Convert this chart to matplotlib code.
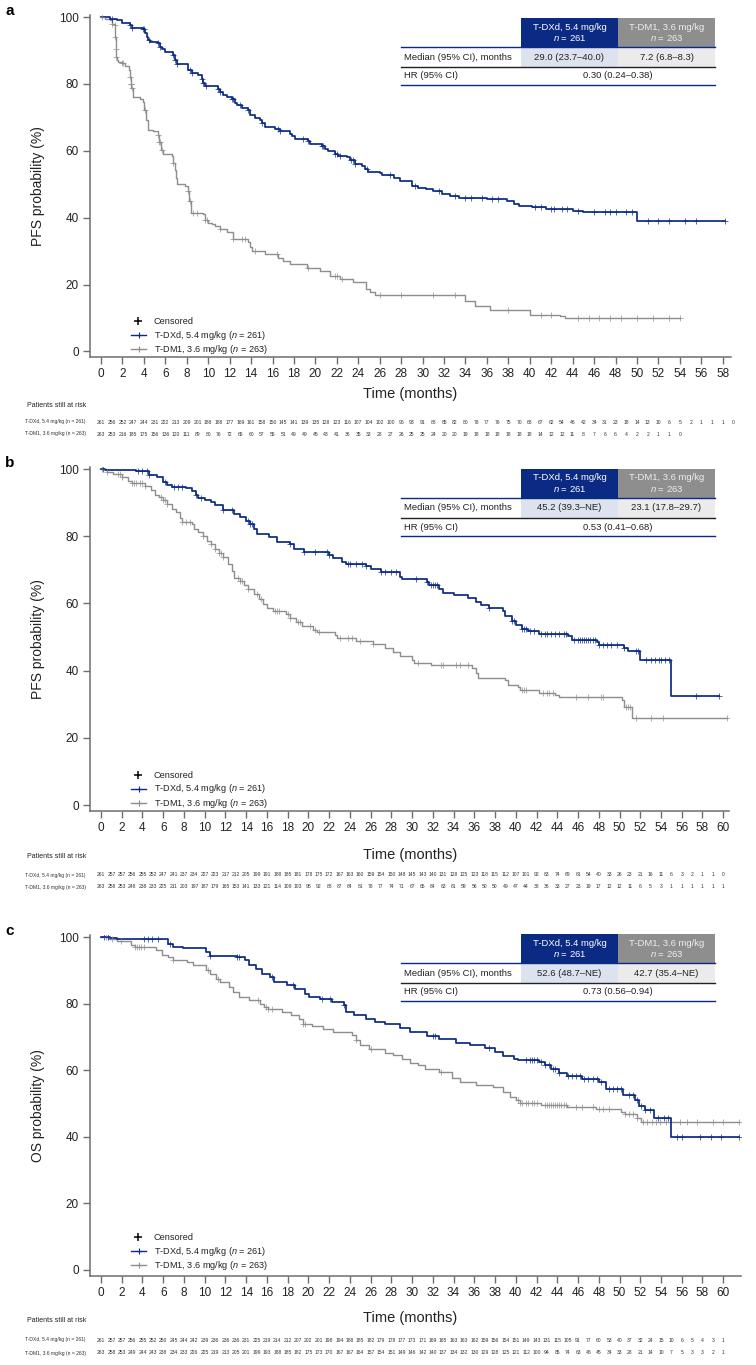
import numpy as np
import matplotlib
matplotlib.use('Agg')
import matplotlib.pyplot as plt
from matplotlib.lines import Line2D
from matplotlib.patches import Rectangle
from matplotlib import transforms

plt.rcParams['font.family'] = ['Liberation Sans', 'DejaVu Sans']
plt.rcParams['mathtext.fontset'] = 'custom'
plt.rcParams['mathtext.it'] = 'Liberation Sans:italic'
plt.rcParams['mathtext.rm'] = 'Liberation Sans'

# ---------------- data: panel a (PFS, BICR) ----------------
a_dxd_t = [0, 0.84, 1.46, 1.99, 2.71, 2.86, 3.89, 4.10, 4.26, 4.42, 4.57, 5.35, 5.50, 5.66, 5.97,
           6.75, 6.90, 7.06, 8.15, 8.46, 9.08, 9.39, 9.55, 9.70, 10.95, 11.10, 11.41, 11.79, 12.19,
           12.50, 12.66, 13.12, 13.74, 13.90, 14.37, 14.83, 14.99, 15.30, 16.23, 16.70, 17.63, 17.79,
           18.10, 19.34, 19.50, 20.59, 20.90, 21.21, 21.83, 22.14, 22.92, 23.23, 23.69, 24.32, 24.63,
           24.94, 26.03, 26.18, 27.3, 27.9, 29.0, 29.6, 30.3, 31.0, 31.8, 32.6, 33.4, 36.0, 37.9,
           38.5, 39.0, 40.2, 41.5, 44.0, 45.0, 50.0]
a_dxd_s = [100, 99.5, 99.0, 98.3, 97.6, 96.8, 96.3, 95.1, 94.1, 93.1, 92.4, 92.1, 91.1, 90.4, 89.4,
           88.6, 87.1, 85.9, 84.1, 83.4, 82.6, 81.6, 80.4, 79.5, 78.5, 77.7, 76.7, 76.0, 75.4,
           74.2, 73.7, 72.9, 72.2, 70.7, 69.7, 69.1, 68.3, 67.1, 66.5, 65.8, 65.1, 64.3,
           63.6, 62.8, 62.0, 61.5, 60.5, 59.8, 59.0, 58.3, 58.1, 57.3, 56.0, 55.3, 54.5,
           53.6, 53.3, 52.8, 52.0, 51.0, 49.6, 49.0, 48.5, 47.9, 47.2, 46.6, 46.0, 45.6, 45.0,
           44.2, 43.6, 43.1, 42.6, 42.1, 41.6, 39.0]
a_dxd_end = 58.2
a_dxd_cens = [1.0, 2.71, 2.86, 3.89, 4.04, 4.51, 5.35, 5.5, 6.75, 6.9, 7.12, 8.3, 8.46, 9.39, 9.55,
              9.76, 10.95, 11.1, 12.19, 12.35, 12.97, 13.74, 14.99, 16.54, 16.7, 18.87, 19.34, 20.59,
              20.74, 21.83, 21.98, 22.29, 23.29, 23.54, 23.69, 24.84, 27.0, 29.3, 31.5, 33.0, 34.0,
              34.5, 35.5, 36.5, 37.0, 40.5, 41.0, 42.0, 42.3, 43.0, 43.5, 44.5, 46.0, 47.0, 47.5,
              48.0, 49.0, 49.5, 51.0, 52.0, 53.0, 54.5, 55.5, 58.2]

a_dm1_t = [0, 0.37, 0.84, 1.0, 1.31, 1.34, 1.37, 1.40, 1.46, 1.62, 1.93, 2.24, 2.64, 2.71, 2.76,
           2.82, 2.95, 3.64, 3.95, 4.04, 4.20, 4.42, 4.88, 5.35, 5.45, 5.57, 5.75, 6.59, 6.75,
           6.90, 7.00, 7.12, 7.84, 8.09, 8.24, 8.40, 9.55, 9.70, 10.02, 10.32, 10.63, 11.10, 11.72,
           12.35, 13.74, 13.90, 14.05, 15.30, 16.54, 17.01, 17.63, 19.19, 20.43, 21.36, 22.29,
           23.54, 24.72, 25.10, 25.56, 34.0, 34.9, 36.3, 40.0, 42.8, 43.3]
a_dm1_s = [100, 99.5, 99.0, 98.0, 97.6, 94.0, 90.5, 88.0, 87.1, 86.6, 86.1, 85.3, 84.3, 82.0, 80.0,
           78.7, 76.0, 75.4, 74.5, 72.2, 69.2, 66.2, 65.8, 64.8, 62.5, 60.3, 59.0, 58.3, 56.3,
           54.3, 52.0, 50.2, 49.6, 47.9, 44.9, 41.5, 41.0, 39.3, 38.5, 38.0, 37.5, 36.7, 35.7,
           33.5, 32.8, 31.3, 30.1, 29.0, 27.8, 27.1, 26.1, 24.8, 24.1, 22.6, 21.8,
           20.8, 18.6, 17.8, 16.8, 15.0, 13.5, 12.5, 11.0, 10.5, 10.0]
a_dm1_end = 54.0
a_dm1_cens = [0.1, 1.0, 1.31, 1.34, 1.38, 1.42, 1.93, 2.08, 2.72, 2.76, 2.79, 2.86, 4.1, 5.35, 5.45,
              5.55, 5.66, 6.75, 8.15, 8.3, 8.62, 8.93, 9.7, 9.86, 11.1, 12.35, 13.12, 13.43, 14.37,
              16.39, 19.34, 21.83, 21.98, 22.45, 26.03, 28.0, 31.0, 33.0, 38.0, 41.0, 42.0, 44.5,
              45.5, 46.5, 47.5, 48.5, 50.0, 51.5, 53.0, 54.0]

a_risk_dxd = [261, 256, 252, 247, 244, 231, 222, 213, 209, 201, 188, 188, 177, 169, 161, 158, 150,
              145, 141, 139, 135, 128, 123, 116, 107, 104, 102, 100, 96, 93, 91, 88, 85, 82, 80, 78,
              77, 76, 75, 70, 68, 67, 62, 54, 46, 42, 34, 31, 23, 18, 14, 13, 10, 6, 5, 2, 1, 1, 1, 0]
a_risk_dm1 = [263, 253, 216, 185, 175, 156, 136, 120, 111, 89, 80, 76, 72, 65, 60, 57, 55, 51, 49,
              49, 45, 43, 41, 36, 35, 33, 28, 27, 26, 25, 25, 24, 20, 20, 19, 18, 18, 18, 18, 18,
              18, 14, 12, 12, 11, 8, 7, 6, 6, 4, 2, 2, 1, 1, 0]
a_table = ['29.0 (23.7\u201340.0)', '7.2 (6.8\u20138.3)', '0.30 (0.24\u20130.38)']

# ---------------- data: panel b (PFS, investigator) ----------------
b_dxd_t = [0, 0.4, 3.4, 4.6, 5.4, 6.0, 6.4, 6.8, 8.2, 8.8, 9.2, 9.4, 10.0, 10.6, 11.0, 11.8, 12.8,
           13.4, 14.0, 14.4, 14.8, 15.0, 16.2, 17.0, 18.2, 18.6, 19.6, 22.0, 22.4, 23.2, 23.6, 25.6,
           26.0, 27.0, 28.8, 29.0, 31.4, 31.6, 32.6, 33.0, 34.0, 35.4, 36.2, 36.6, 37.4, 38.8, 39.0,
           39.6, 40.0, 40.6, 41.2, 42.2, 45.0, 45.4, 47.8, 48.0, 50.4, 50.8, 52.0, 55.0]
b_dxd_s = [100, 99.7, 99.4, 98.2, 97.7, 96.2, 95.2, 94.7, 94.2, 93.4, 92.2, 91.4, 90.7, 90.2, 89.2,
           87.7, 86.7, 85.7, 84.4, 83.7, 82.2, 80.7, 79.7, 78.4, 77.7, 76.2, 75.4, 74.4, 73.4, 72.4,
           71.7, 71.2, 70.2, 69.2, 68.0, 67.2, 66.4, 65.4, 64.2, 63.2, 62.4, 61.7, 60.4, 59.4, 58.7,
           57.7, 56.2, 54.7, 53.7, 52.4, 51.7, 51.0, 50.2, 49.0, 48.4, 47.7, 46.7, 45.7, 43.2, 32.5]
b_dxd_end = 59.6
b_dxd_cens = [0.2, 3.6, 4.0, 4.4, 4.6, 6.2, 7.0, 7.4, 7.8, 9.2, 9.6, 11.8, 12.6, 14.2, 14.4, 14.6,
              18.2, 19.6, 20.6, 21.8, 22.0, 23.8, 24.0, 24.6, 25.2, 25.6, 27.0, 27.4, 28.0, 28.4,
              30.4, 31.4, 31.8, 32.0, 32.2, 32.4, 37.4, 39.6, 39.8, 40.6, 40.8, 41.0, 41.4, 41.8,
              42.4, 42.8, 43.0, 43.4, 43.8, 44.2, 44.6, 44.8, 45.6, 46.0, 46.2, 46.4, 46.6, 46.8,
              47.0, 47.2, 47.4, 47.6, 48.0, 48.4, 48.8, 49.2, 49.8, 50.4, 51.6, 51.8, 52.6, 53.0,
              53.4, 53.8, 54.0, 54.4, 54.8, 57.4, 59.6]

b_dm1_t = [0, 0.6, 1.2, 2.0, 2.6, 3.0, 4.2, 4.8, 5.2, 5.6, 6.0, 6.4, 6.8, 7.2, 7.6, 7.8, 8.8, 9.0,
           9.4, 9.8, 10.2, 10.6, 11.0, 11.4, 11.8, 12.2, 12.6, 12.8, 13.4, 13.8, 14.2, 14.8, 15.2,
           15.6, 16.0, 16.6, 17.8, 18.2, 18.8, 19.4, 20.4, 20.8, 22.6, 22.8, 24.6, 26.2, 27.4, 28.2,
           28.8, 30.0, 30.2, 31.8, 35.8, 36.2, 36.4, 39.0, 39.2, 40.2, 40.4, 42.2, 43.8, 44.2, 50.2,
           50.4, 51.2]
b_dm1_s = [100, 99.2, 98.4, 97.7, 96.4, 95.7, 95.0, 93.7, 92.2, 91.7, 90.7, 89.7, 88.2, 87.2, 85.4,
           84.2, 83.7, 82.2, 81.2, 80.2, 78.7, 77.7, 76.2, 75.0, 73.7, 71.7, 69.7, 67.7, 66.7, 65.4,
           64.2, 62.7, 61.2, 59.7, 58.7, 57.7, 56.7, 55.7, 54.4, 53.2, 52.2, 51.4, 50.7, 49.7, 48.7,
           48.0, 46.7, 45.4, 44.4, 43.2, 42.2, 41.7, 40.7, 39.2, 37.7, 37.2, 35.7, 35.2, 34.2, 33.4,
           32.7, 32.2, 31.2, 29.2, 26.0]
b_dm1_end = 60.4
b_dm1_cens = [0.1, 0.6, 1.6, 1.8, 2.0, 3.0, 3.2, 3.4, 3.8, 4.0, 4.2, 5.8, 6.0, 6.2, 6.4, 7.8, 8.2,
              8.6, 9.8, 10.6, 11.0, 11.4, 11.6, 11.8, 13.2, 13.4, 13.6, 14.2, 15.0, 15.4, 16.8, 17.0,
              17.2, 18.0, 18.2, 19.0, 19.2, 20.2, 20.6, 21.0, 23.0, 23.8, 24.2, 25.0, 26.2, 30.6,
              32.8, 33.0, 34.2, 34.6, 35.4, 40.6, 40.8, 41.0, 42.6, 43.0, 43.2, 43.6, 45.8, 47.0,
              48.2, 48.4, 50.6, 50.8, 51.0, 51.6, 53.0, 54.2, 60.4]

b_risk_dxd = [261, 257, 257, 256, 255, 252, 247, 241, 237, 234, 227, 223, 217, 212, 205, 199, 191,
              188, 185, 181, 178, 175, 172, 167, 163, 160, 159, 154, 150, 148, 145, 143, 140, 131,
              128, 125, 123, 118, 115, 112, 107, 101, 92, 83, 74, 69, 61, 54, 40, 33, 26, 23, 21,
              16, 11, 6, 3, 2, 1, 1, 0]
b_risk_dm1 = [263, 258, 253, 248, 238, 233, 225, 211, 203, 197, 187, 179, 165, 153, 141, 133, 121,
              114, 109, 103, 98, 92, 88, 87, 84, 81, 78, 77, 74, 71, 67, 65, 64, 63, 61, 59, 56, 50,
              50, 49, 47, 44, 38, 36, 33, 27, 23, 19, 17, 12, 12, 11, 6, 5, 3, 1, 1, 1, 1, 1, 1]
b_table = ['45.2 (39.3\u2013NE)', '23.1 (17.8\u201329.7)', '0.53 (0.41\u20130.68)']

# ---------------- data: panel c (OS) ----------------
c_dxd_t = [0, 0.9, 1.5, 6.5, 6.9, 7.9, 10.1, 10.5, 13.1, 13.9, 14.3, 14.9, 15.5, 16.3, 16.7, 17.9,
           18.7, 19.7, 20.1, 21.1, 22.3, 23.4, 23.6, 24.4, 25.6, 26.4, 27.4, 28.8, 29.8, 31.4, 32.6,
           34.2, 35.6, 37.0, 38.0, 38.8, 39.8, 40.2, 42.2, 42.8, 43.4, 44.2, 44.9, 46.4, 48.0, 48.7,
           50.3, 51.5, 51.9, 52.5, 53.3, 55.0]
c_dxd_s = [100, 99.7, 99.3, 98.0, 97.0, 96.7, 95.5, 94.3, 94.0, 93.0, 91.5, 90.5, 89.0, 88.0, 86.5,
           85.5, 84.5, 83.0, 82.0, 81.5, 80.5, 79.7, 77.5, 76.7, 75.5, 74.5, 74.0, 72.7, 71.5, 70.3,
           69.5, 68.3, 67.7, 66.7, 65.5, 64.3, 63.5, 63.0, 62.5, 61.7, 60.5, 59.3, 58.3, 57.5, 56.5,
           54.5, 52.7, 51.0, 49.3, 48.0, 45.7, 40.0]
c_dxd_end = 61.5
c_dxd_cens = [0.3, 0.7, 4.1, 4.5, 4.9, 5.5, 6.7, 10.5, 13.1, 13.3, 16.5, 18.5, 21.3, 22.1, 23.4,
              32.0, 32.2, 37.4, 41.0, 41.4, 41.6, 41.8, 42.0, 42.4, 42.8, 43.2, 43.6, 43.8, 44.2,
              45.0, 45.4, 45.8, 46.2, 46.6, 47.0, 47.4, 47.8, 48.2, 49.0, 49.4, 49.8, 50.1, 50.9,
              51.3, 51.7, 52.1, 52.5, 52.9, 53.7, 54.3, 54.7, 55.5, 56.0, 57.8, 58.8, 59.8, 61.5]

c_dm1_t = [0, 0.7, 1.5, 2.9, 3.3, 5.3, 5.9, 6.5, 6.9, 8.3, 8.9, 10.1, 10.5, 11.1, 11.5, 12.3, 12.7,
           13.3, 14.3, 15.3, 15.7, 16.1, 17.5, 18.3, 19.1, 19.5, 20.3, 21.4, 22.4, 24.2, 24.6, 25.0,
           25.8, 27.4, 28.2, 29.0, 29.8, 30.6, 31.2, 32.6, 33.8, 34.6, 36.2, 37.8, 38.8, 39.4, 40.0,
           40.4, 42.4, 44.9, 47.7, 50.1, 50.5, 51.7, 52.1]
c_dm1_s = [100, 99.3, 98.7, 97.5, 97.0, 96.0, 94.7, 94.0, 93.0, 92.5, 91.5, 90.0, 89.0, 87.5, 86.5,
           85.0, 83.5, 82.0, 81.0, 80.0, 79.0, 78.3, 77.5, 76.5, 75.3, 74.0, 73.3, 72.5, 71.5, 70.7,
           69.0, 67.5, 66.3, 65.3, 64.5, 63.5, 62.3, 61.5, 60.5, 59.5, 57.7, 56.5, 55.7, 55.0, 53.5,
           52.0, 51.0, 50.3, 49.5, 49.0, 48.3, 47.5, 46.7, 45.5, 44.3]
c_dm1_end = 61.5
c_dm1_cens = [0.5, 1.1, 1.9, 3.3, 3.5, 3.7, 3.9, 4.1, 6.9, 10.3, 11.3, 15.1, 15.9, 16.1, 16.5,
              19.5, 19.7, 24.6, 26.0, 32.8, 40.2, 40.4, 40.6, 41.0, 41.2, 41.6, 41.8, 42.0, 42.8,
              43.0, 43.2, 43.4, 43.6, 43.8, 44.0, 44.2, 44.4, 44.6, 44.8, 45.8, 46.4, 47.4, 48.0,
              48.4, 49.0, 50.5, 50.9, 51.3, 51.7, 52.3, 52.7, 53.1, 53.5, 53.9, 54.5, 55.8, 56.5,
              57.5, 59.0, 60.0, 61.5]

c_risk_dxd = [261, 257, 257, 256, 255, 252, 250, 245, 244, 242, 239, 236, 236, 236, 231, 225, 219,
              214, 212, 207, 202, 201, 198, 194, 188, 185, 182, 179, 178, 177, 173, 171, 169, 165,
              163, 163, 162, 159, 156, 154, 151, 149, 143, 131, 115, 105, 91, 77, 60, 53, 40, 37,
              32, 24, 15, 10, 6, 5, 4, 3, 1]
c_risk_dm1 = [263, 258, 253, 249, 244, 243, 238, 234, 233, 226, 225, 219, 213, 205, 201, 199, 193,
              188, 185, 182, 175, 173, 170, 167, 167, 164, 157, 154, 151, 149, 146, 142, 140, 137,
              134, 132, 130, 129, 128, 125, 121, 112, 100, 94, 85, 74, 63, 48, 45, 34, 33, 28, 21,
              14, 10, 7, 5, 3, 3, 2, 1]
c_table = ['52.6 (48.7\u2013NE)', '42.7 (35.4\u2013NE)', '0.73 (0.56\u20130.94)']

arm_labels = ['T-DXd, 5.4 mg/kg', 'T-DM1, 3.6 mg/kg']
arm_n = [261, 263]

# ---------------- styling ----------------
W, H = 756, 1365
BLUE = '#0b2a84'
GREY = '#8e8e8e'
AXC = '#6e6e6e'


def fx(x):
    return x / W


def fy(y):
    return 1 - y / H


def surv_at(t, s, x):
    i = np.searchsorted(np.asarray(t), x, side='right') - 1
    return np.asarray(s)[i]


fig = plt.figure(figsize=(W / 100, H / 100), dpi=100)

panels = [
    dict(letter='a', ylab='PFS probability (%)', box=(90, 731, 15, 357), x0=101, pxm=10.72,
         y100=17, y0=351.4, xmax=58, dxd=(a_dxd_t, a_dxd_s, a_dxd_end, a_dxd_cens),
         dm1=(a_dm1_t, a_dm1_s, a_dm1_end, a_dm1_cens), risk=(a_risk_dxd, a_risk_dm1),
         table=a_table, ttop=18, leg=321, xlab=387, risk_y=(405, 422, 434)),
    dict(letter='b', ylab='PFS probability (%)', box=(90, 729, 467, 811), x0=101, pxm=10.37,
         y100=469, y0=805, xmax=60, dxd=(b_dxd_t, b_dxd_s, b_dxd_end, b_dxd_cens),
         dm1=(b_dm1_t, b_dm1_s, b_dm1_end, b_dm1_cens), risk=(b_risk_dxd, b_risk_dm1),
         table=b_table, ttop=469, leg=775, xlab=848, risk_y=(856, 875, 887)),
    dict(letter='c', ylab='OS probability (%)', box=(90, 741, 935, 1276), x0=101, pxm=10.37,
         y100=937, y0=1270, xmax=60, dxd=(c_dxd_t, c_dxd_s, c_dxd_end, c_dxd_cens),
         dm1=(c_dm1_t, c_dm1_s, c_dm1_end, c_dm1_cens), risk=(c_risk_dxd, c_risk_dm1),
         table=c_table, ttop=934, leg=1237, xlab=1311, risk_y=(1321, 1340, 1353)),
]

for p in panels:
    l, r, t, b = p['box']
    ax = fig.add_axes([fx(l), fy(b), (r - l) / W, (b - t) / H])
    pxy = (p['y0'] - p['y100']) / 100.0
    ax.set_xlim((l - p['x0']) / p['pxm'], (r - p['x0']) / p['pxm'])
    ax.set_ylim(-(b - p['y0']) / pxy, 100 + (p['y100'] - t) / pxy)

    for arm, col, lw in [(p['dm1'], GREY, 1.0), (p['dxd'], BLUE, 1.25)]:
        tt, ss, tend, cens = arm
        xs = np.append(tt, tend)
        ys = np.append(ss, ss[-1])
        ax.plot(xs, ys, drawstyle='steps-post', color=col, lw=lw, zorder=3)
        cy = [surv_at(tt, ss, c) for c in cens]
        ax.plot(cens, cy, ls='none', marker='+', ms=4.5, mew=0.7, color=col, alpha=0.7, zorder=4)

    for side in ['top', 'right']:
        ax.spines[side].set_visible(False)
    for side in ['left', 'bottom']:
        ax.spines[side].set_color(AXC)
        ax.spines[side].set_linewidth(1.1)
    ax.set_xticks(np.arange(0, p['xmax'] + 1, 2))
    ax.set_yticks(np.arange(0, 101, 20))
    ax.tick_params(direction='out', length=5, width=1, color=AXC, labelsize=8.5,
                   labelcolor='#222222', pad=3)
    ax.set_ylabel(p['ylab'], fontsize=10, color='#222222')
    ax.yaxis.set_label_coords((45 - l) / (r - l), 0.5)
    ax.set_xlabel('Time (months)', fontsize=10.5, color='#222222')
    ax.xaxis.set_label_coords((410 - l) / (r - l), (b - p['xlab']) / (b - t))

    fig.text(fx(5), fy(t - 4), p['letter'], fontsize=11, fontweight='bold', va='center')

    # summary table
    tt0 = p['ttop']
    hx = [521, 618, 715]
    fig.add_artist(Rectangle((fx(hx[0]), fy(tt0 + 29)), 97 / W, 29 / H, color=BLUE,
                             transform=fig.transFigure, lw=0))
    fig.add_artist(Rectangle((fx(hx[1]), fy(tt0 + 29)), 97 / W, 29 / H, color=GREY,
                             transform=fig.transFigure, lw=0))
    fig.add_artist(Rectangle((fx(hx[0]), fy(tt0 + 49)), 97 / W, 20 / H, color='#dde3ee',
                             transform=fig.transFigure, lw=0))
    fig.add_artist(Rectangle((fx(hx[1]), fy(tt0 + 49)), 97 / W, 20 / H, color='#ebebeb',
                             transform=fig.transFigure, lw=0))
    for yy, lc in [(tt0 + 29, BLUE), (tt0 + 49, '#222222'), (tt0 + 67, BLUE)]:
        fig.add_artist(Line2D([fx(401), fx(715)], [fy(yy), fy(yy)], color=lc, lw=1.0,
                              transform=fig.transFigure))
    for k, hc in enumerate(['white', '#eeeeee']):
        cx = (hx[k] + hx[k + 1]) / 2
        fig.text(fx(cx), fy(tt0 + 9), arm_labels[k], color=hc, fontsize=6.8, ha='center',
                 va='center')
        fig.text(fx(cx), fy(tt0 + 20), '$n$ = %d' % arm_n[k], color=hc, fontsize=6.8,
                 ha='center', va='center')
        fig.text(fx(cx), fy(tt0 + 39), p['table'][k], color='#222222', fontsize=6.8,
                 ha='center', va='center')
    fig.text(fx(404), fy(tt0 + 39), 'Median (95% CI), months', color='#222222', fontsize=6.8,
             va='center')
    fig.text(fx(404), fy(tt0 + 58), 'HR (95% CI)', color='#222222', fontsize=6.8, va='center')
    fig.text(fx(618), fy(tt0 + 58), p['table'][2], color='#222222', fontsize=6.8, ha='center',
             va='center')

    # legend
    ly = p['leg']
    fig.add_artist(Line2D([fx(138)], [fy(ly)], marker='+', ms=6, mew=1.1, color='black',
                          transform=fig.transFigure))
    fig.text(fx(154), fy(ly), 'Censored', fontsize=6.6, va='center', color='#222222')
    for k, col in enumerate([BLUE, GREY]):
        yy = ly + 14 * (k + 1)
        fig.add_artist(Line2D([fx(131), fx(146)], [fy(yy), fy(yy)], color=col, lw=1.0,
                              transform=fig.transFigure))
        fig.add_artist(Line2D([fx(138.5)], [fy(yy)], marker='+', ms=5, mew=0.8, color=col,
                              transform=fig.transFigure))
        fig.text(fx(154), fy(yy), '%s ($n$ = %d)' % (arm_labels[k], arm_n[k]), fontsize=6.6,
                 va='center', color='#222222')

    # patients at risk
    ry = p['risk_y']
    fig.text(fx(27), fy(ry[0]), 'Patients still at risk', fontsize=5, va='center',
             color='#222222')
    trans = transforms.blended_transform_factory(ax.transData, fig.transFigure)
    for k in range(2):
        fig.text(fx(25), fy(ry[k + 1]), '%s (n = %d)' % (arm_labels[k], arm_n[k]),
                 fontsize=3.6, va='center', color='#333333')
        for m, v in enumerate(p['risk'][k]):
            ax.text(m, fy(ry[k + 1]), str(v), transform=trans, fontsize=3.6, ha='center',
                    va='center', color='#333333', clip_on=False)

fig.savefig('out.png', dpi=100)
